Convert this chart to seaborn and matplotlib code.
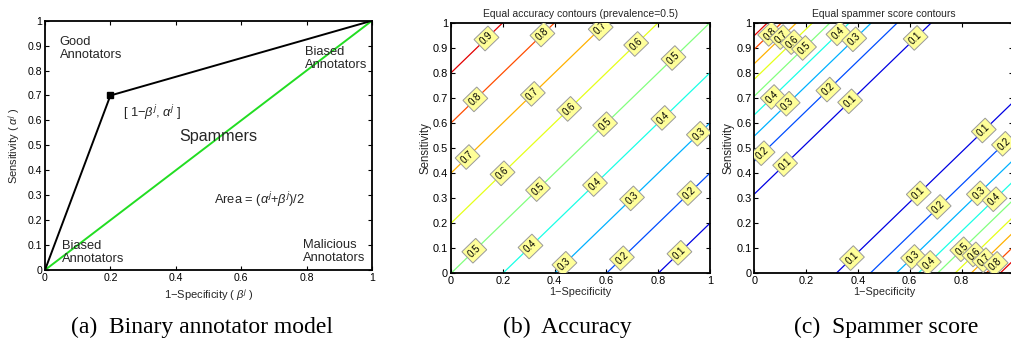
import numpy as np
import matplotlib
matplotlib.use("Agg")
import matplotlib.pyplot as plt
from matplotlib.colors import LinearSegmentedColormap
import seaborn as sns

# ---------------- data ----------------
roc_x = [0.0, 0.2, 1.0]          # 1 - specificity of annotator
roc_y = [0.0, 0.7, 1.0]          # sensitivity of annotator
diag_x = [0.0, 1.0]
diag_y = [0.0, 1.0]
levels = [0.1, 0.2, 0.3, 0.4, 0.5, 0.6, 0.7, 0.8, 0.9]
x_ticks_a = [0, 0.2, 0.4, 0.6, 0.8, 1]
y_ticks_a = [0, 0.1, 0.2, 0.3, 0.4, 0.5, 0.6, 0.7, 0.8, 0.9, 1]

# contour label placement (level, x along the line)
acc_labels = [(0.9, 0.137), (0.8, 0.353), (0.8, 0.094), (0.7, 0.578), (0.7, 0.316), (0.7, 0.064),
              (0.6, 0.715), (0.6, 0.456), (0.6, 0.199), (0.5, 0.859), (0.5, 0.595), (0.5, 0.336),
              (0.5, 0.09), (0.4, 0.82), (0.4, 0.556), (0.4, 0.307), (0.3, 0.957), (0.3, 0.699),
              (0.3, 0.438), (0.2, 0.92), (0.2, 0.66), (0.1, 0.882)]
spam_labels_upper = [(0.8, 0.061), (0.7, 0.106), (0.6, 0.148), (0.5, 0.192), (0.4, 0.325), (0.4, 0.071),
                     (0.3, 0.386), (0.3, 0.129), (0.2, 0.286), (0.2, 0.032), (0.1, 0.623), (0.1, 0.37),
                     (0.1, 0.119)]
spam_labels_lower = [(0.1, 0.886), (0.1, 0.635), (0.1, 0.377), (0.2, 0.964), (0.2, 0.712), (0.3, 0.867),
                     (0.3, 0.613), (0.4, 0.928), (0.4, 0.674), (0.5, 0.803), (0.6, 0.85), (0.7, 0.889),
                     (0.8, 0.932)]

# ---------------- style ----------------
sns.set_theme(style="ticks")
plt.rcParams['font.family'] = ['Liberation Sans', 'DejaVu Sans']
plt.rcParams['mathtext.fontset'] = 'custom'
plt.rcParams['mathtext.rm'] = 'Liberation Sans'
plt.rcParams['mathtext.it'] = 'Liberation Sans:italic'
plt.rcParams['xtick.direction'] = 'in'
plt.rcParams['ytick.direction'] = 'in'
plt.rcParams['xtick.top'] = True
plt.rcParams['ytick.right'] = True

# MATLAB-style jet colormap
mjet = LinearSegmentedColormap('mjet', {
    'red':   [(0, 0, 0), (0.375, 0, 0), (0.625, 1, 1), (0.875, 1, 1), (1, 0.5, 0.5)],
    'green': [(0, 0, 0), (0.125, 0, 0), (0.375, 1, 1), (0.625, 1, 1), (0.875, 0, 0), (1, 0, 0)],
    'blue':  [(0, 0.5, 0.5), (0.125, 1, 1), (0.375, 1, 1), (0.625, 0, 0), (1, 0, 0)],
})

W, H = 1012, 345
fig = plt.figure(figsize=(W / 100, H / 100), dpi=100)
fig.patch.set_facecolor('white')


def add_axes(l, r, t, b):
    return fig.add_axes([l / W, 1 - b / H, (r - l) / W, (b - t) / H])


def style_axes(ax, xt, yt, fs):
    ax.set_xlim(0, 1)
    ax.set_ylim(0, 1)
    ax.set_xticks(xt)
    ax.set_yticks(yt)
    ax.set_xticklabels([f"{v:g}" for v in xt])
    ax.set_yticklabels([f"{v:g}" for v in yt])
    ax.tick_params(labelsize=fs, length=3, width=0.8, color='black', pad=2, colors='black')
    for s in ax.spines.values():
        s.set_color('black')
        s.set_linewidth(1.3)
    ax.set_facecolor('white')


# ---------------- panel (a) ----------------
axa = add_axes(45, 372, 20.7, 270)
sns.lineplot(x=diag_x, y=diag_y, ax=axa, color='#22dd22', lw=1.4, sort=False, estimator=None)
sns.lineplot(x=roc_x, y=roc_y, ax=axa, color='black', lw=1.4, sort=False, estimator=None)
axa.plot(roc_x[1], roc_y[1], marker='s', color='black', ms=5, ls='none')
style_axes(axa, x_ticks_a, y_ticks_a, 7.6)
axa.set_xlabel(r'1$-$Specificity ( $\beta^j$ )', fontsize=8, labelpad=3)
axa.set_ylabel(r'Sensitivity ( $\alpha^j$ )', fontsize=8, labelpad=4)
tf = 9.3
axa.text(0.045, 0.94, 'Good\nAnnotators', fontsize=tf, va='top', linespacing=1.1)
axa.text(0.795, 0.90, 'Biased\nAnnotators', fontsize=tf, va='top', linespacing=1.1)
axa.text(0.24, 0.63, r'[ 1$-\beta^j$, $\alpha^j$ ]', fontsize=tf, va='center')
axa.text(0.41, 0.535, 'Spammers', fontsize=11.6, va='center')
axa.text(0.518, 0.28, r'Area = ($\alpha^j$+$\beta^j$)/2', fontsize=tf, va='center')
axa.text(0.053, 0.12, 'Biased\nAnnotators', fontsize=tf, va='top', linespacing=1.1)
axa.text(0.79, 0.125, 'Malicious\nAnnotators', fontsize=tf, va='top', linespacing=1.1)

# ---------------- contour grids ----------------
g = np.linspace(0, 1, 401)
X, Y = np.meshgrid(g, g)                 # X = 1-specificity, Y = sensitivity
ACC = 0.5 * Y + 0.5 * (1 - X)            # accuracy at prevalence 0.5
SPAM = (Y - X) ** 2                      # spammer score (alpha + beta - 1)^2


def label_boxes(ax, cs, pts):
    txts = ax.clabel(cs, levels=cs.levels, inline=False, fontsize=7, fmt='%g', manual=pts)
    for t in txts:
        t.set_bbox(dict(boxstyle='square,pad=0.3', fc='#ffff99', ec='#999999', lw=0.7))
        t.set_color('black')


# ---------------- panel (b) ----------------
axb = add_axes(451, 710, 22.7, 273.3)
csb = axb.contour(X, Y, ACC, levels=levels, cmap=mjet, vmin=0, vmax=1, linewidths=0.9)
pts_b = [(x, x + 2 * lv - 1) for lv, x in acc_labels]
label_boxes(axb, csb, pts_b)
style_axes(axb, x_ticks_a, y_ticks_a, 7.9)
axb.set_title('Equal accuracy contours (prevalence=0.5)', fontsize=7.5, pad=4)
axb.set_xlabel('1\u2212Specificity', fontsize=7.8, labelpad=1)
axb.set_ylabel('Sensitivity', fontsize=8.3, labelpad=1)

# ---------------- panel (c) ----------------
axc = add_axes(754.3, 1013.3, 22.7, 273.3)
csc = axc.contour(X, Y, SPAM, levels=levels, cmap=mjet, vmin=0, vmax=1, linewidths=0.9)
pts_c = [(x, x + np.sqrt(lv)) for lv, x in spam_labels_upper] + \
        [(x, x - np.sqrt(lv)) for lv, x in spam_labels_lower]
label_boxes(axc, csc, pts_c)
style_axes(axc, x_ticks_a, y_ticks_a, 7.9)
axc.set_title('Equal spammer score contours', fontsize=7.5, pad=4)
axc.set_xlabel('1\u2212Specificity', fontsize=7.8, labelpad=1)
axc.set_ylabel('Sensitivity', fontsize=8.3, labelpad=1)

# ---------------- captions ----------------
cap = dict(fontsize=17, family='Liberation Serif', ha='center', va='center', color='black')
fig.text(202 / W, 1 - 327 / H, '(a)  Binary annotator model', **cap)
fig.text(567 / W, 1 - 327 / H, '(b)  Accuracy', **cap)
fig.text(886 / W, 1 - 327 / H, '(c)  Spammer score', **cap)

fig.savefig('out.png', dpi=100, facecolor='white')
